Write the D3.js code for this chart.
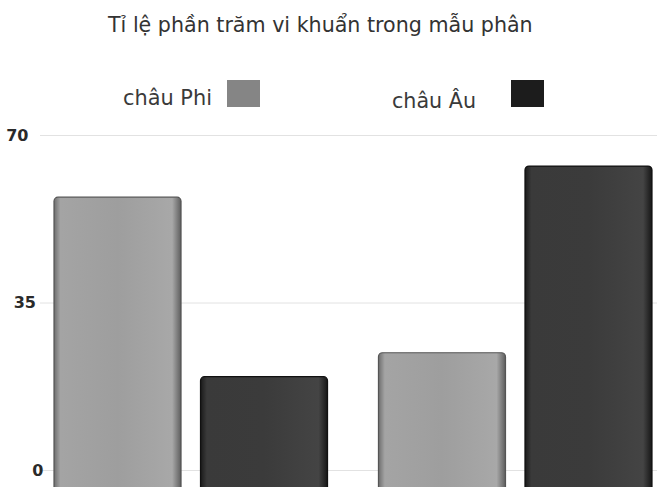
<!DOCTYPE html>
<html>
<head>
<meta charset="utf-8">
<script src="https://cdn.jsdelivr.net/npm/d3@7"></script>
<style>
  html, body { margin: 0; padding: 0; background: #fff; }
  svg { display: block; }
</style>
</head>
<body>
<svg id="chart" width="657" height="487"></svg>
<script>
// Share of bacteria in stool samples, two groups, two regions
const titleText = "Tỉ lệ phần trăm vi khuẩn trong mẫu phân";
const groups = ["A", "B"];
const seriesNames = ["châu Phi", "châu Âu"];
const africaValues = [57, 24.5];
const europeValues = [19.5, 63.5];
const tickValues = [0, 35, 70];

const W = 657, H = 487;
const svg = d3.select("#chart");
const font = "'DejaVu Sans', 'Noto Sans', sans-serif";

// size a text element so it spans the given width
function fitWidth(sel, target) {
  const base = +sel.attr("font-size");
  const len = sel.node().getComputedTextLength();
  if (len > 0) sel.attr("font-size", (base * target / len).toFixed(2));
  return sel;
}

const rows = groups.map((g, i) => ({
  group: g,
  values: [
    { key: seriesNames[0], value: africaValues[i], s: 0 },
    { key: seriesNames[1], value: europeValues[i], s: 1 }
  ]
}));

const y = d3.scaleLinear().domain([0, 70]).range([470, 135]);
const x0 = d3.scaleBand().domain(groups).range([54, 652]).paddingInner(0.157).paddingOuter(0);
const x1 = d3.scaleBand().domain(seriesNames).range([0, x0.bandwidth()]).paddingInner(0.133);

// gradients giving the bars a rounded, lit look
const defs = svg.append("defs");
const gradSpecs = [
  { id: "g-light", stops: [["0%", "#6e6e6e"], ["5%", "#a4a4a4"], ["50%", "#9e9e9e"], ["93%", "#a8a8a8"], ["100%", "#5e5e5e"]] },
  { id: "g-dark",  stops: [["0%", "#1a1a1a"], ["5%", "#3a3a3a"], ["50%", "#3b3b3b"], ["93%", "#444"], ["100%", "#161616"]] }
];
gradSpecs.forEach(gs => {
  const g = defs.append("linearGradient").attr("id", gs.id).attr("x1", "0").attr("x2", "1").attr("y1", "0").attr("y2", "0");
  gs.stops.forEach(([o, c]) => g.append("stop").attr("offset", o).attr("stop-color", c));
});
const fills = ["url(#g-light)", "url(#g-dark)"];
const strokes = ["#555", "#111"];
const swatch = ["#858585", "#1c1c1c"];

// title
const title = svg.append("text")
  .attr("x", 108).attr("y", 32)
  .attr("font-family", font).attr("font-size", 16)
  .attr("fill", "#333")
  .text(titleText);
fitWidth(title, 425);

// legend
const legendItems = [
  { label: seriesNames[0], tx: 123, ty: 105, w: 89, sx: 227, sy: 80 },
  { label: seriesNames[1], tx: 392, ty: 108, w: 84, sx: 511, sy: 80 }
];
legendItems.forEach((d, i) => {
  const t = svg.append("text")
    .attr("x", d.tx).attr("y", d.ty)
    .attr("font-family", font).attr("font-size", 16)
    .attr("fill", "#3a3a3a")
    .text(d.label);
  fitWidth(t, d.w);
  svg.append("rect")
    .attr("x", d.sx).attr("y", d.sy)
    .attr("width", 33).attr("height", 27)
    .attr("fill", swatch[i]);
});

// gridlines + y axis labels
const yAxis = d3.axisLeft(y).tickValues(tickValues).tickSize(-(W - 40)).tickPadding(4);
const gAxis = svg.append("g").attr("transform", "translate(40,0)").call(yAxis);
gAxis.select(".domain").remove();
gAxis.selectAll(".tick line").attr("stroke", "#e2e2e2").attr("stroke-width", 1);
// labels drift slightly right toward the bottom of the axis
gAxis.selectAll(".tick text")
  .attr("font-family", font).attr("font-size", 16).attr("font-weight", "bold")
  .attr("fill", "#2a2a2a")
  .attr("dx", d => ((y(d) - y(35)) * 0.045).toFixed(1));

// bars
const gGroups = svg.append("g").selectAll("g")
  .data(rows).join("g")
  .attr("transform", d => `translate(${x0(d.group)},0)`);

gGroups.selectAll("rect")
  .data(d => d.values).join("rect")
  .attr("x", d => x1(d.key))
  .attr("y", d => y(d.value))
  .attr("width", x1.bandwidth())
  .attr("height", d => H + 10 - y(d.value))
  .attr("rx", 4).attr("ry", 4)
  .attr("fill", d => fills[d.s])
  .attr("stroke", d => strokes[d.s])
  .attr("stroke-width", 1.2);
</script>
</body>
</html>
